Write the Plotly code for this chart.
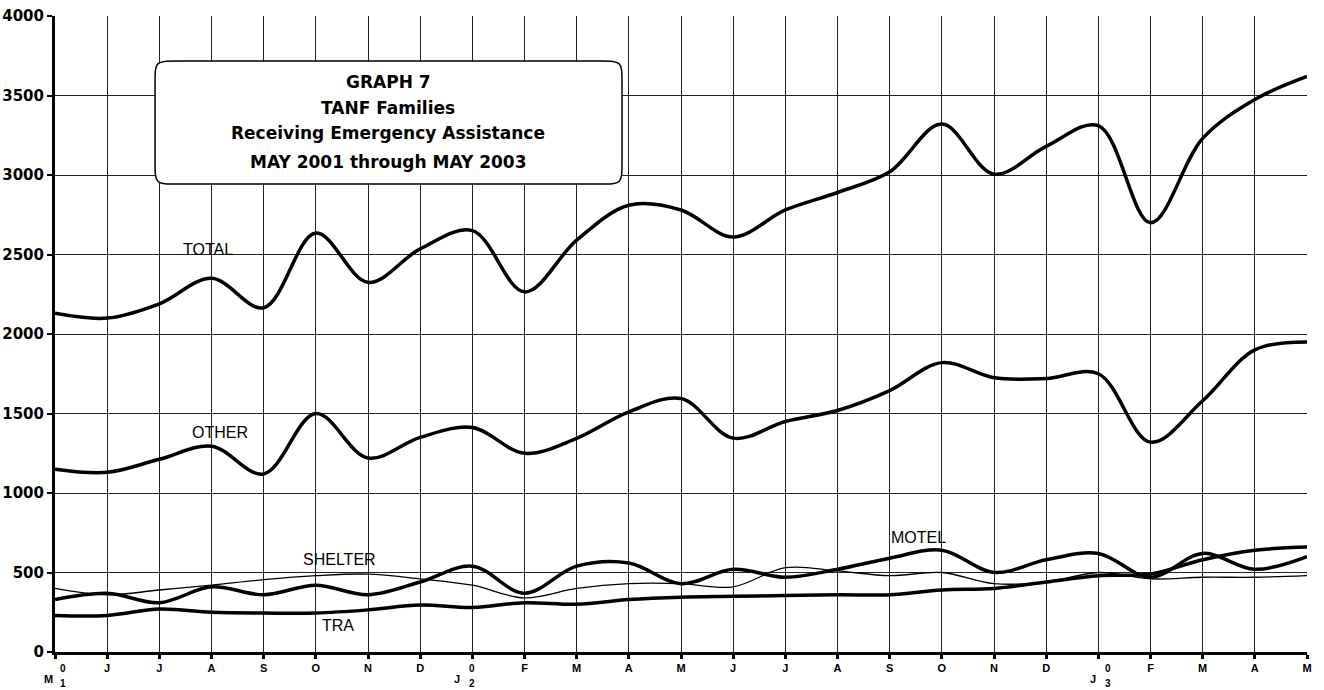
import plotly.graph_objects as go

months = ["M", "J", "J", "A", "S", "O", "N", "D", "J", "F", "M", "A", "M",
          "J", "J", "A", "S", "O", "N", "D", "J", "F", "M", "A", "M"]
year_marks = {0: ("M", "1"), 8: ("J", "2"), 20: ("J", "3")}

total = [2130, 2100, 2190, 2350, 2165, 2635, 2325, 2535, 2650, 2265, 2590, 2810,
         2780, 2610, 2780, 2890, 3020, 3320, 3005, 3180, 3310, 2700, 3230, 3475, 3620]
other = [1150, 1130, 1212, 1294, 1120, 1500, 1220, 1350, 1412, 1250, 1344, 1510,
         1594, 1345, 1450, 1519, 1644, 1820, 1725, 1720, 1750, 1320, 1580, 1900, 1950]
shelter = [400, 360, 390, 420, 455, 480, 490, 460, 420, 340, 400, 430,
           430, 410, 530, 510, 480, 500, 430, 440, 500, 460, 470, 470, 480]
motel = [330, 370, 310, 410, 360, 420, 360, 440, 540, 370, 540, 560,
         430, 520, 470, 520, 590, 640, 500, 580, 620, 470, 620, 520, 600]
tra = [230, 230, 270, 250, 245, 245, 265, 295, 280, 310, 300, 330,
       345, 350, 355, 360, 360, 390, 400, 440, 480, 490, 580, 640, 660]

x = list(range(len(months)))

fig = go.Figure()
series = [("TOTAL", total, 3.5), ("OTHER", other, 3.5), ("SHELTER", shelter, 1.3),
          ("MOTEL", motel, 3.5), ("TRA", tra, 3.5)]
for name, vals, w in series:
    fig.add_trace(go.Scatter(x=x, y=vals, mode="lines", name=name,
                             line=dict(color="black", width=w, shape="spline", smoothing=1.0),
                             showlegend=False, hoverinfo="skip"))

ticktext = ["" if i in year_marks else m for i, m in enumerate(months)]

fig.update_layout(
    width=1324, height=690,
    margin=dict(l=55, r=17, t=16, b=38, autoexpand=False),
    paper_bgcolor="white", plot_bgcolor="white",
    font=dict(family="Liberation Sans, Arial, sans-serif", color="black"),
    xaxis=dict(range=[0, 24], tickmode="array", tickvals=x, ticktext=ticktext,
               showgrid=True, gridcolor="#222", gridwidth=1,
               showline=True, linecolor="black", linewidth=3,
               ticks="outside", ticklen=4, tickwidth=3, tickcolor="black",
               tickfont=dict(size=11, family="Liberation Sans, Arial", weight="bold"),
               zeroline=False, fixedrange=True, automargin=False),
    yaxis=dict(range=[0, 4000], tickmode="linear", tick0=0, dtick=500,
               showgrid=True, gridcolor="#222", gridwidth=1,
               showline=True, linecolor="black", linewidth=3,
               ticks="outside", ticklen=5, tickwidth=2, tickcolor="black",
               tickfont=dict(size=15, family="DejaVu Sans", weight="bold"),
               zeroline=True, zerolinecolor="black", zerolinewidth=3, fixedrange=True,
               automargin=False),
)

# composite year labels on the x axis
for i, (letter, yr) in year_marks.items():
    dx = 8 if i == 0 else (0 if i == 8 else 10)
    fig.add_annotation(x=i, y=0, xref="x", yref="y", text="<b>0</b>", showarrow=False,
                       font=dict(size=10), xshift=dx, yshift=-16)
    fig.add_annotation(x=i, y=0, xref="x", yref="y", text="<b>%s</b>" % yr, showarrow=False,
                       font=dict(size=10), xshift=dx, yshift=-31)
    fig.add_annotation(x=i, y=0, xref="x", yref="y", text="<b>%s</b>" % letter, showarrow=False,
                       font=dict(size=11), xshift=dx - 15, yshift=-27)

# title box (rounded rectangle, plot-area paper coordinates)
x0, x1, y0, y1 = 0.0799, 0.4529, 0.7358, 0.9292
rx, ry = 0.018, 0.036
path = (f"M {x0+rx},{y1} L {x1-rx},{y1} C {x1},{y1} {x1},{y1} {x1},{y1-ry} "
        f"L {x1},{y0+ry} C {x1},{y0} {x1},{y0} {x1-rx},{y0} "
        f"L {x0+rx},{y0} C {x0},{y0} {x0},{y0} {x0},{y0+ry} "
        f"L {x0},{y1-ry} C {x0},{y1} {x0},{y1} {x0+rx},{y1} Z")
fig.add_shape(type="path", xref="paper", yref="paper", path=path,
              line=dict(color="black", width=1.5), fillcolor="white", layer="above")
title_lines = ["GRAPH 7", "TANF Families", "Receiving Emergency Assistance",
               "MAY 2001 through MAY 2003"]
title_py = [82, 108, 133, 162]
for t, py in zip(title_lines, title_py):
    fig.add_annotation(x=0.266, y=(652 - py) / 636, xref="paper", yref="paper",
                       xanchor="center", yanchor="middle",
                       text="<b>%s</b>" % t, showarrow=False,
                       font=dict(size=17, family="DejaVu Sans"))

labels = [("TOTAL", 2.93, 2530), ("OTHER", 3.16, 1380), ("SHELTER", 5.46, 580),
          ("MOTEL", 16.55, 720), ("TRA", 5.42, 165)]
for t, xv, yv in labels:
    fig.add_annotation(x=xv, y=yv, xref="x", yref="y", text=t, showarrow=False,
                       font=dict(size=16, family="Liberation Sans"))

fig.write_html("out.html", config={"displayModeBar": False},
               post_script="document.body.style.margin='0';document.body.style.padding='0';")
